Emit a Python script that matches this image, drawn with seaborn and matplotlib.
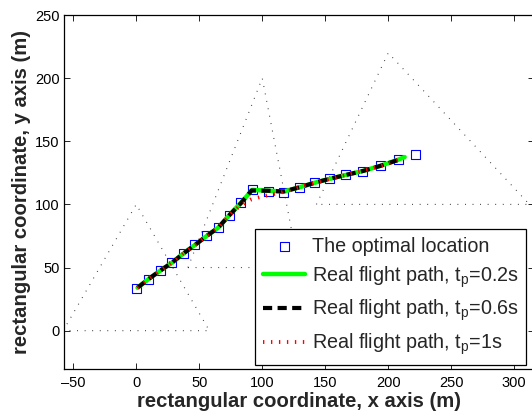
import matplotlib
matplotlib.use("Agg")
import matplotlib.pyplot as plt
import seaborn as sns
import pandas as pd

# ---------------- data ----------------
# optimal locations (blue squares)
opt_x = [0.3, 9.5, 19.0, 28.3, 37.3, 46.6, 55.9, 65.1, 73.8, 83.1, 92.6,
         105.1, 117.0, 129.4, 141.8, 153.7, 166.2, 179.7, 194.0, 208.5, 221.4]
opt_y = [33.6, 40.7, 47.5, 53.8, 61.0, 67.9, 75.0, 81.6, 91.4, 101.3, 112.0,
         110.4, 109.8, 113.5, 117.2, 120.3, 123.3, 126.4, 130.6, 135.7, 139.9]

# real flight path, tp = 0.2 s (green)
path02_x = [1.0, 9.5, 19.0, 28.3, 37.3, 46.6, 55.9, 65.1, 73.8, 83.1, 92.0,
            105.1, 117.0, 129.4, 141.8, 153.7, 166.2, 179.7, 194.0, 208.5, 213.0]
path02_y = [34.0, 40.7, 47.5, 53.8, 61.0, 67.9, 75.0, 81.6, 91.4, 101.3, 111.5,
            110.8, 110.2, 113.5, 117.2, 120.3, 123.3, 126.4, 130.6, 135.7, 137.5]

# real flight path, tp = 0.6 s (black dashed)
path06_x = [1.0, 9.5, 19.0, 28.3, 37.3, 46.6, 55.9, 65.1, 73.8, 83.1, 91.5,
            105.1, 117.0, 129.4, 141.8, 153.7, 166.2, 179.7, 194.0, 208.0]
path06_y = [34.0, 40.7, 47.5, 53.8, 61.0, 67.9, 75.0, 81.6, 91.4, 101.0, 111.0,
            110.8, 110.2, 113.5, 117.2, 120.3, 123.3, 126.4, 130.6, 135.2]

# real flight path, tp = 1 s (red dotted, cuts the corner)
path1_x = [1.0, 9.5, 19.0, 28.3, 37.3, 46.6, 55.9, 65.1, 73.8, 83.0, 91.0,
           99.0, 107.0, 115.0, 123.0, 129.4, 141.8, 153.7, 166.2, 179.7, 194.0, 208.0]
path1_y = [34.0, 40.7, 47.5, 53.8, 61.0, 67.9, 75.0, 81.6, 91.4, 99.5, 103.8,
           106.0, 107.8, 109.5, 111.5, 113.5, 117.2, 120.3, 123.3, 126.4, 130.6, 135.2]

# obstacles (dotted triangles)
tri1_x = [-58, 0, 58, -58]
tri1_y = [0, 100, 0, 0]
tri2_x = [41, 100, 129, 41]
tri2_y = [50, 200, 50, 50]
tri3_x = [143, 200, 312, 143]
tri3_y = [100, 220, 100, 100]

labels = ["The optimal location",
          "Real flight path, t$_\\mathrm{p}$=0.2s",
          "Real flight path, t$_\\mathrm{p}$=0.6s",
          "Real flight path, t$_\\mathrm{p}$=1s"]

x_ticks = [-50, 0, 50, 100, 150, 200, 250, 300]
y_ticks = [0, 50, 100, 150, 200, 250]

# ---------------- style ----------------
sns.set_style("ticks")
plt.rcParams["font.family"] = ["Liberation Sans", "DejaVu Sans"]
plt.rcParams["mathtext.fontset"] = "custom"
plt.rcParams["mathtext.rm"] = "Liberation Sans"
plt.rcParams["mathtext.it"] = "Liberation Sans:italic"
plt.rcParams["mathtext.bf"] = "Liberation Sans:bold"

W, H = 532, 418
fig = plt.figure(figsize=(W / 100, H / 100), dpi=100)
ax = fig.add_axes([64.3 / W, (H - 369.3) / H, (533.8 - 64.3) / W, (369.3 - 15) / H])

# triangles
for tx, ty in [(tri1_x, tri1_y), (tri2_x, tri2_y), (tri3_x, tri3_y)]:
    sns.lineplot(x=tx, y=ty, sort=False, estimator=None, ax=ax, color="0.2",
                 lw=0.8, linestyle=(0, (0.8, 6.0)), zorder=0.8, legend=False)

sns.scatterplot(x=opt_x, y=opt_y, ax=ax, marker="s", s=42, facecolor="none",
                edgecolor="#0000ff", linewidth=0.8, zorder=1, label=labels[0])
sns.lineplot(x=path02_x, y=path02_y, sort=False, estimator=None, ax=ax,
             color="#00ff00", lw=3.2, zorder=2, label=labels[1])
sns.lineplot(x=path06_x, y=path06_y, sort=False, estimator=None, ax=ax,
             color="black", lw=3.0, linestyle=(0, (2.2, 1.3)), zorder=2.1,
             label=labels[2])
sns.lineplot(x=path1_x, y=path1_y, sort=False, estimator=None, ax=ax,
             color="#ff0000", lw=2.8, linestyle=(0, (0.35, 1.7)), zorder=2.2,
             label=labels[3])

ax.set_xlim(-57.1, 315.5)
ax.set_ylim(-30.6, 250)
ax.set_xticks(x_ticks)
ax.set_yticks(y_ticks)
ax.set_xticklabels([str(v).replace("-", "\u2013") for v in x_ticks])
ax.set_yticklabels([str(v) for v in y_ticks])

for sp in ax.spines.values():
    sp.set_visible(True)
    sp.set_linewidth(0.9)
    sp.set_color("black")
ax.tick_params(direction="in", top=True, right=True, length=4, width=0.6,
               labelsize=10.5, colors="black")
ax.tick_params(axis="x", pad=5)
ax.tick_params(axis="y", pad=3.5)

ax.set_xlabel("rectangular coordinate, x axis (m)", fontsize=14.6,
              fontweight="bold", labelpad=1)
ax.set_ylabel("rectangular coordinate, y axis (m)", fontsize=14.6,
              fontweight="bold", labelpad=3)

handles, labs = ax.get_legend_handles_labels()
leg = ax.legend(handles, labs, loc="lower left", bbox_to_anchor=(0.406, 0.012),
                borderaxespad=0, fontsize=14.2, frameon=True, fancybox=False,
                framealpha=1, edgecolor="black", handlelength=2.15,
                handletextpad=0.33, borderpad=0.4, labelspacing=0.42,
                scatterpoints=1)
leg.get_frame().set_linewidth(0.9)

fig.savefig("out.png", dpi=100)
